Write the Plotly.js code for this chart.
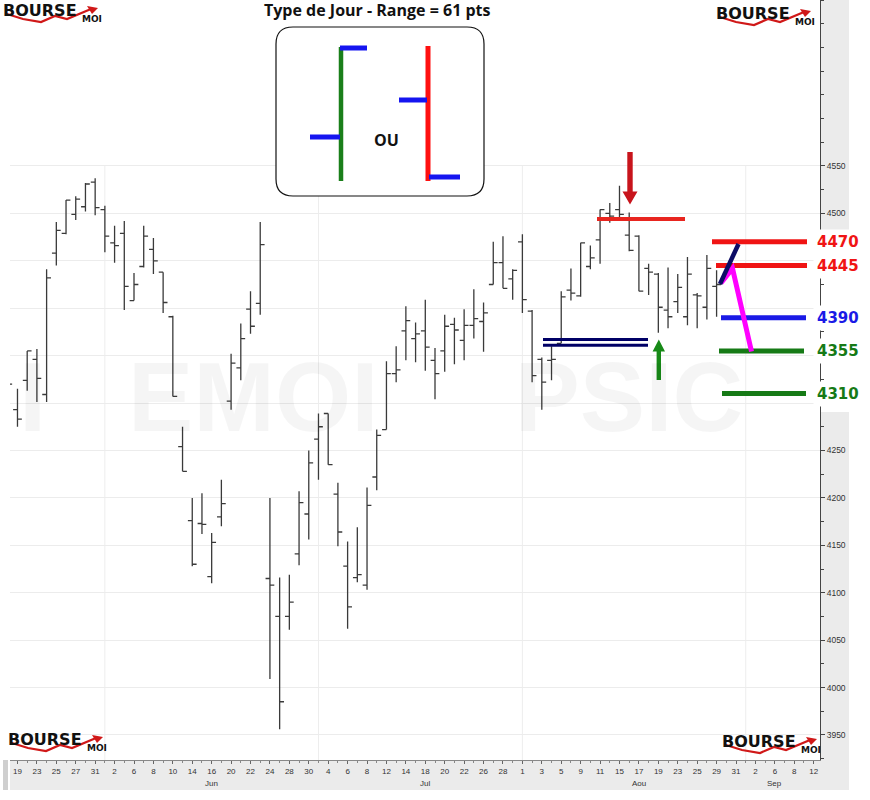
<!DOCTYPE html>
<html><head><meta charset="utf-8">
<script src="https://cdn.plot.ly/plotly-3.0.1.min.js"></script>
<style>html,body{margin:0;padding:0;background:#fff}#chart{width:870px;height:800px}</style>
</head><body><div id="chart"></div>
<script>
// ---------------- DATA (CAC 40 daily bars, 2016) ----------------
const dates = ['2016-05-18','2016-05-19','2016-05-20','2016-05-23','2016-05-24','2016-05-25','2016-05-26','2016-05-27','2016-05-30','2016-05-31',
'2016-06-01','2016-06-02','2016-06-03','2016-06-06','2016-06-07','2016-06-08','2016-06-09','2016-06-10','2016-06-13','2016-06-14',
'2016-06-15','2016-06-16','2016-06-17','2016-06-20','2016-06-21','2016-06-22','2016-06-23','2016-06-24','2016-06-27','2016-06-28',
'2016-06-29','2016-06-30','2016-07-01','2016-07-04','2016-07-05','2016-07-06','2016-07-07','2016-07-08','2016-07-11','2016-07-12',
'2016-07-13','2016-07-14','2016-07-15','2016-07-18','2016-07-19','2016-07-20','2016-07-21','2016-07-22','2016-07-25','2016-07-26',
'2016-07-27','2016-07-28','2016-07-29','2016-08-01','2016-08-02','2016-08-03','2016-08-04','2016-08-05','2016-08-08','2016-08-09',
'2016-08-10','2016-08-11','2016-08-12','2016-08-15','2016-08-16','2016-08-17','2016-08-18','2016-08-19','2016-08-22','2016-08-23',
'2016-08-24','2016-08-25','2016-08-26','2016-08-29'];
const opens  = [4305,4293,4324,4346,4309,4458,4479,4499,4507,4533, 4504,4469,4479,4408,4444,4462,4438,4391,4254,4176,
4173,4117,4180,4302,4337,4399,4405,4115,4075,4075, 4141,4183,4262,4289,4204,4128,4116,4108,4222,4272,
4331,4376,4368,4376,4345,4355,4383,4366,4382,4386, 4425,4448,4431,4470,4397,4346,4345,4363,4419,4413,
4444,4472,4500,4504,4477,4476,4442,4436,4398,4407, 4391,4414,4401,4423];
const highs  = [4330,4315,4355,4357,4441,4491,4514,4518,4532,4537, 4508,4487,4492,4437,4487,4474,4438,4392,4275,4200,
4205,4163,4219,4352,4384,4418,4491,4200,4116,4119, 4207,4250,4289,4289,4216,4154,4169,4211,4272,4344,
4360,4402,4385,4409,4358,4393,4390,4399,4420,4406, 4470,4476,4441,4478,4398,4348,4360,4418,4442,4469,
4466,4504,4511,4529,4501,4477,4447,4437,4443,4436, 4454,4416,4456,4440];
const lows   = [4298,4275,4313,4301,4301,4445,4478,4493,4502,4498, 4459,4448,4398,4408,4443,4436,4395,4307,4228,4128,
4162,4110,4170,4293,4324,4373,4393,4009,3956,4061, 4129,4156,4219,4235,4149,4062,4111,4103,4208,4272,
4322,4345,4343,4334,4304,4333,4341,4345,4368,4354, 4425,4421,4409,4395,4322,4293,4324,4363,4408,4412,
4441,4447,4490,4494,4460,4418,4414,4374,4379,4395, 4382,4379,4388,4391];
const closes = [4320,4283,4355,4326,4432,4482,4514,4515,4531,4506, 4476,4466,4423,4425,4476,4450,4406,4307,4228,4130,
4172,4153,4194,4342,4368,4381,4467,4108,3985,4090, 4195,4237,4275,4235,4164,4085,4119,4192,4266,4331,
4335,4387,4373,4359,4331,4381,4377,4382,4389,4395, 4448,4421,4440,4409,4329,4322,4346,4412,4416,4469,
4453,4504,4497,4499,4461,4418,4438,4401,4391,4422, 4436,4413,4442,4425];

// x-axis tick labels (every 2nd trading day) and month labels
const tickDates = ['2016-05-19','2016-05-23','2016-05-25','2016-05-27','2016-05-31','2016-06-02','2016-06-06','2016-06-08','2016-06-10','2016-06-14',
'2016-06-16','2016-06-20','2016-06-22','2016-06-24','2016-06-28','2016-06-30','2016-07-04','2016-07-06','2016-07-08','2016-07-12',
'2016-07-14','2016-07-18','2016-07-20','2016-07-22','2016-07-26','2016-07-28','2016-08-01','2016-08-03','2016-08-05','2016-08-09',
'2016-08-11','2016-08-15','2016-08-17','2016-08-19','2016-08-23','2016-08-25','2016-08-29','2016-08-31','2016-09-02','2016-09-06',
'2016-09-08','2016-09-12'];
const tickLabels = ['19','23','25','27','31','2','6','8','10','14','16','20','22','24','28','30','4','6','8','12',
'14','18','20','22','26','28','1','3','5','9','11','15','17','19','23','25','29','31','2','6','8','12'];
const monthLabels = ['Jun','Jul','Aou','Sep'];
const monthLabelDates = ['2016-06-16','2016-07-18','2016-08-17','2016-09-06'];
const monthStarts = ['2016-06-01','2016-07-01','2016-08-01','2016-09-01'];

// price axis
const yTickVals = [3950,4000,4050,4100,4150,4200,4250,4300,4350,4400,4450,4500,4550];
const yTickText = ['3950','4000','4050','4100','4150','4200','4250','','','','','4500','4550'];

// annotated levels
const levelVals   = [4470,4445,4390,4355,4310];
const levelLabels = ['4470','4445','4390','4355','4310'];
const levelColors = ['#f01414','#f01414','#1a1ae6','#167a16','#167a16'];
const resistance = 4494;          // red horizontal line
const supportPair = [4367,4361];  // double navy line
const chartTitle = 'Type de Jour - Range = 61 pts';
const watermark = 'I&nbsp;&nbsp;&nbsp;EMOI&nbsp;&nbsp;&nbsp;&nbsp;&nbsp;PSIC';

// ---------------- trading-day index (weekends removed) ----------------
const BASE = '2016-05-19';
function tradingIndex(s){
  const day = 86400000;
  const t = Date.parse(s+'T00:00:00Z'), b = Date.parse(BASE+'T00:00:00Z');
  let n = 0;
  if (t >= b) { for (let u=b; u<t; u+=day){ const w=new Date(u+day).getUTCDay(); if (w!==0 && w!==6) n++; } }
  else { for (let u=b; u>t; u-=day){ const w=new Date(u-day).getUTCDay(); if (w!==0 && w!==6) n--; } }
  return n;
}
const xs = dates.map(tradingIndex);

// ---------------- geometry helpers (decorations only) ----------------
const W=870, H=800, ML=10, MR=50, MT=0, MB=40;
const PW=W-ML-MR, PH=H-MT-MB;
const PX = p => (p-ML)/PW;
const PY = p => (H-MB-p)/PH;
const XR = [-0.77, 82.65], YR = [3923.6, 4725];
const IX = p => XR[0] + (p-ML)/PW*(XR[1]-XR[0]);
const VY = p => YR[1] - (p-MT)/PH*(YR[1]-YR[0]);

const shapes = [], annotations = [];

// grey axis bands
shapes.push({type:'rect',xref:'paper',yref:'paper',x0:PX(10),x1:PX(849),y0:PY(790),y1:PY(760),fillcolor:'#ebebeb',line:{width:0},layer:'below'});
shapes.push({type:'rect',xref:'paper',yref:'paper',x0:PX(820),x1:PX(849),y0:PY(760),y1:PY(0),fillcolor:'#ebebeb',line:{width:0},layer:'below'});
shapes.push({type:'rect',xref:'paper',yref:'paper',x0:PX(820.5),x1:PX(849),y0:PY(412),y1:PY(230),fillcolor:'#ffffff',line:{width:0},layer:'below'});
shapes.push({type:'rect',xref:'paper',yref:'paper',x0:PX(3),x1:PX(8),y0:PY(790),y1:PY(760),fillcolor:'#cfcfcf',line:{width:0},layer:'below'});
// month separators
monthStarts.forEach(d=>{
  const xi = tradingIndex(d);
  shapes.push({type:'line',xref:'x',yref:'y',x0:xi,x1:xi,y0:YR[0],y1:4550,line:{color:'#ededed',width:1},layer:'below'});
});

// resistance line + red arrow
shapes.push({type:'line',xref:'x',yref:'y',x0:IX(597),x1:IX(685),y0:resistance,y1:resistance,line:{color:'#e8251f',width:4}});
function arrowPath(cx, hw, hh, yTail, yBase, yTip){
  return `M${cx-hw},${yTail} L${cx+hw},${yTail} L${cx+hw},${yBase} L${cx+hh},${yBase} L${cx},${yTip} L${cx-hh},${yBase} L${cx-hw},${yBase} Z`;
}
shapes.push({type:'path',xref:'x',yref:'y',path:arrowPath(IX(630),IX(632.7)-IX(630),IX(637.5)-IX(630),VY(152),VY(191.5),VY(204.5)),fillcolor:'#c8141c',line:{width:0}});
// double navy support line + green arrow
supportPair.forEach(v=>shapes.push({type:'line',xref:'x',yref:'y',x0:IX(543),x1:IX(648),y0:v,y1:v,line:{color:'#000066',width:3}}));
shapes.push({type:'path',xref:'x',yref:'y',path:arrowPath(IX(658.8),IX(661)-IX(658.8),IX(665)-IX(658.8),VY(380),VY(351.5),VY(339.5)),fillcolor:'#178a17',line:{width:0}});

// projection levels
const levelX0 = [712,716,721,719,722], levelX1 = [807,807,806,804,806];
levelVals.forEach((v,k)=>{
  shapes.push({type:'line',xref:'x',yref:'y',x0:IX(levelX0[k]),x1:IX(levelX1[k]),y0:v,y1:v,line:{color:levelColors[k],width:5}});
  annotations.push({xref:'paper',yref:'y',x:PX(838),y:v,text:'<b>'+levelLabels[k]+'</b>',showarrow:false,
    font:{family:'DejaVu Sans',size:15,color:levelColors[k]},bgcolor:'#ffffff',borderpad:3,xanchor:'center',yanchor:'middle'});
});
// magenta & navy projection strokes
shapes.push({type:'path',xref:'x',yref:'y',path:`M${IX(721)},${VY(283)} L${IX(732.5)},${VY(268.5)} L${IX(751.5)},${VY(351.5)}`,line:{color:'#ff00ff',width:5}});
shapes.push({type:'line',xref:'x',yref:'y',x0:IX(720),x1:IX(738.5),y0:VY(284),y1:VY(244),line:{color:'#0c0c66',width:4.5}});

// inset box "Type de Jour"
function roundRect(x0,y0,x1,y1,r){
  const P=(x,y)=>`${PX(x)},${PY(y)}`;
  return `M${P(x0+r,y0)} L${P(x1-r,y0)} Q${P(x1,y0)} ${P(x1,y0+r)} L${P(x1,y1-r)} Q${P(x1,y1)} ${P(x1-r,y1)} L${P(x0+r,y1)} Q${P(x0,y1)} ${P(x0,y1-r)} L${P(x0,y0+r)} Q${P(x0,y0)} ${P(x0+r,y0)} Z`;
}
shapes.push({type:'path',xref:'paper',yref:'paper',path:roundRect(276,27,484,196,17),fillcolor:'#ffffff',line:{color:'#111',width:1.2}});
const seg=(x0,y0,x1,y1,c,w)=>shapes.push({type:'line',xref:'paper',yref:'paper',x0:PX(x0),y0:PY(y0),x1:PX(x1),y1:PY(y1),line:{color:c,width:w}});
seg(341,47,341,181,'#1a7f1a',4.5);
seg(340,48,367,48,'#1515f0',5);
seg(310,137,340,137,'#1515f0',5);
seg(428,46,428,181,'#ff1010',5);
seg(399,100,427,100,'#1515f0',5);
seg(429,177,460,177,'#1515f0',5);
annotations.push({xref:'paper',yref:'paper',x:PX(386),y:PY(127),text:'<b>OU</b>',showarrow:false,font:{family:'Open Sans',size:16,color:'#111'}});

// title
annotations.push({xref:'paper',yref:'paper',x:PX(377),y:PY(10),text:'<b>'+chartTitle+'</b>',showarrow:false,font:{family:'Open Sans',size:16,color:'#111'},yanchor:'middle'});

// month labels
monthLabels.forEach((m,k)=>annotations.push({xref:'x',yref:'paper',x:tradingIndex(monthLabelDates[k]),y:PY(783),text:m,showarrow:false,
  font:{family:'Liberation Sans, Arial',size:8,color:'#333'},yanchor:'middle'}));

// faint watermark (single text, drawn very transparent)
annotations.push({xref:'paper',yref:'paper',x:PX(18),y:PY(397),xanchor:'left',yanchor:'middle',text:'<b>'+watermark+'</b>',showarrow:false,borderpad:0,
  font:{family:'Liberation Sans, Arial',size:98,color:'rgba(0,0,0,0.04)'}});

// logos
function addLogo(x,y){
  const pts=[[4,10],[20,15],[38,18],[52,12],[64,15],[88,5]];
  shapes.push({type:'path',xref:'paper',yref:'paper',path:'M'+pts.map(p=>`${PX(x+p[0])},${PY(y+p[1])}`).join(' L'),line:{color:'#d01818',width:2.2}});
  shapes.push({type:'path',xref:'paper',yref:'paper',path:`M${PX(x+84)},${PY(y+2)} L${PX(x+95)},${PY(y+4)} L${PX(x+89)},${PY(y+10)} Z`,fillcolor:'#d01818',line:{width:0}});
  annotations.push({xref:'paper',yref:'paper',x:PX(x-1),y:PY(y-4),xanchor:'left',yanchor:'top',text:'<b>BOURSE</b>',showarrow:false,borderpad:0,
    font:{family:'DejaVu Sans',size:16,color:'#111'}});
  annotations.push({xref:'paper',yref:'paper',x:PX(x+78),y:PY(y+9),xanchor:'left',yanchor:'top',text:'<b>MOI</b>',showarrow:false,borderpad:0,
    font:{family:'DejaVu Sans',size:9,color:'#111'}});
}
addLogo(3,4); addLogo(716,7); addLogo(8,733); addLogo(722,735);

// ---------------- trace & layout ----------------
const trace = {
  type:'ohlc', x:xs, open:opens, high:highs, low:lows, close:closes,
  increasing:{line:{color:'#3a3a3a',width:1.3}}, decreasing:{line:{color:'#3a3a3a',width:1.3}},
  line:{width:1.3}, tickwidth:0.45, hoverinfo:'skip', showlegend:false
};
const layout = {
  width:W, height:H, margin:{l:ML,r:MR,t:MT,b:MB,pad:0},
  paper_bgcolor:'#ffffff', plot_bgcolor:'#ffffff', showlegend:false,
  xaxis:{type:'linear', range:XR, tickmode:'array', tickvals:tickDates.map(tradingIndex), ticktext:tickLabels,
    ticks:'outside', ticklen:3, tickcolor:'#666', tickfont:{family:'Liberation Sans, Arial',size:8,color:'#333'},
    showline:true, linecolor:'#888', linewidth:1, showgrid:false, zeroline:false, rangeslider:{visible:false}, fixedrange:true,
    minor:{tickmode:'linear',tick0:0,dtick:1,ticks:'outside',ticklen:2,tickcolor:'#888',showgrid:false}},
  yaxis:{side:'right', range:YR, tickmode:'array', tickvals:yTickVals, ticktext:yTickText,
    ticks:'outside', ticklen:4, tickcolor:'#444', tickfont:{family:'Liberation Sans, Arial',size:8.5,color:'#333'},
    showline:true, linecolor:'#444', linewidth:1, showgrid:true, gridcolor:'#ececec', zeroline:false, fixedrange:true,
    minor:{tickmode:'linear',tick0:3950,dtick:25,ticks:'outside',ticklen:3,tickcolor:'#444',showgrid:false}},
  shapes:shapes, annotations:annotations
};
Plotly.newPlot('chart',[trace],layout,{staticPlot:true,displayModeBar:false});
</script>
</body></html>
